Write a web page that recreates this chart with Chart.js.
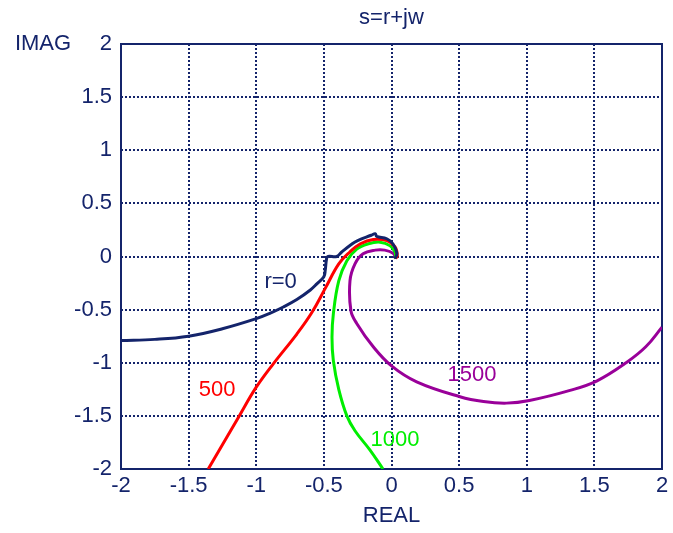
<!DOCTYPE html>
<html>
<head>
<meta charset="utf-8">
<script src="https://cdn.jsdelivr.net/npm/chart.js@4"></script>
<style>
  html, body { margin: 0; padding: 0; background: #fff; }
  #wrap { width: 673px; height: 533px; }
</style>
</head>
<body>
<div id="wrap"><canvas id="chart" width="673" height="533"></canvas></div>
<script>
// tick values for both axes
const xTicks = [-2, -1.5, -1, -0.5, 0, 0.5, 1, 1.5, 2];
const yTicks = [-2, -1.5, -1, -0.5, 0, 0.5, 1, 1.5, 2];

// r = 0
const r0X = [-2, -1.75, -1.5, -1.25, -1.0, -0.9, -0.8, -0.7, -0.6, -0.55, -0.5, -0.49, -0.48, -0.47, -0.405, -0.37, -0.29, -0.25, -0.15, -0.12, -0.11, -0.035, 0.01, 0.04, 0.025];
const r0Y = [-0.79, -0.78, -0.75, -0.68, -0.585, -0.535, -0.475, -0.405, -0.315, -0.255, -0.19, -0.13, -0.02, 0.0, 0.0, 0.04, 0.12, 0.15, 0.2, 0.215, 0.19, 0.167, 0.12, 0.03, -0.02];

// r = 500
const r500X = [-1.355, -1.13, -1.0, -0.874, -0.70, -0.59, -0.49, -0.39, -0.31, -0.23, -0.135, -0.035, 0.026, 0.043, 0.03];
const r500Y = [-2, -1.51, -1.23, -1.01, -0.73, -0.53, -0.3, -0.07, 0.04, 0.12, 0.16, 0.15, 0.09, 0.01, -0.02];

// r = 1000
const r1000X = [-0.063, -0.16, -0.27, -0.33, -0.39, -0.43, -0.44, -0.43, -0.39, -0.33, -0.257, -0.17, -0.085, -0.01, 0.026, 0.03];
const r1000Y = [-2, -1.82, -1.64, -1.5, -1.25, -0.98, -0.76, -0.54, -0.23, -0.04, 0.07, 0.12, 0.135, 0.1, 0.04, -0.02];

// r = 1500
const r1500X = [0.03, 0.013, -0.05, -0.12, -0.21, -0.27, -0.307, -0.30, -0.257, -0.135, 0.0, 0.186, 0.506, 0.68, 0.85, 1.02, 1.32, 1.52, 1.74, 1.88, 2.0];
const r1500Y = [-0.02, 0.03, 0.06, 0.06, 0.025, -0.07, -0.23, -0.51, -0.63, -0.85, -1.03, -1.18, -1.32, -1.365, -1.38, -1.355, -1.26, -1.17, -0.995, -0.85, -0.665];

// curve labels
const labelText = ['r=0', '500', '1000', '1500'];
const labelX = [-0.82, -1.29, 0.026, 0.595];
const labelY = [-0.235, -1.26, -1.73, -1.11];

const navy = '#14246b';
const FONT = 'Arial, "Liberation Sans", sans-serif';
const colors = [navy, '#ff0000', '#00ee00', '#990099'];

function pts(xs, ys) {
  return xs.map((x, i) => ({ x: x, y: ys[i] }));
}

// frame, curve labels and the IMAG text
const extras = {
  id: 'extras',
  beforeDatasetsDraw(chart) {
    const a = chart.chartArea;
    const ctx = chart.ctx;
    ctx.save();
    ctx.strokeStyle = navy;
    ctx.lineWidth = 2;
    ctx.strokeRect(a.left, a.top, a.right - a.left, a.bottom - a.top);
    ctx.restore();
  },
  afterDraw(chart) {
    const ctx = chart.ctx;
    const xs = chart.scales.x, ys = chart.scales.y;
    ctx.save();
    ctx.font = '22px ' + FONT;
    ctx.textAlign = 'center';
    ctx.textBaseline = 'middle';
    for (let i = 0; i < labelText.length; i++) {
      ctx.fillStyle = colors[i];
      ctx.fillText(labelText[i], xs.getPixelForValue(labelX[i]), ys.getPixelForValue(labelY[i]));
    }
    ctx.fillStyle = navy;
    ctx.fillText('IMAG', 43, 44);
    ctx.fillText('s=r+jw', (chart.chartArea.left + chart.chartArea.right) / 2, 18);
    ctx.restore();
  }
};

const series = [[r0X, r0Y], [r500X, r500Y], [r1000X, r1000Y], [r1500X, r1500Y]];

new Chart(document.getElementById('chart'), {
  type: 'scatter',
  data: {
    datasets: series.map((s, i) => ({
      data: pts(s[0], s[1]),
      showLine: true,
      borderColor: colors[i],
      borderWidth: 3,
      pointRadius: 0,
      tension: 0.4,
      fill: false
    }))
  },
  options: {
    responsive: false,
    animation: false,
    layout: { padding: { top: 44, right: 11, left: 0, bottom: 0 } },
    plugins: {
      legend: { display: false },
      tooltip: { enabled: false },
      title: { display: false }
    },
    scales: {
      x: {
        type: 'linear',
        min: -2, max: 2,
        afterBuildTicks: s => { s.ticks = xTicks.map(v => ({ value: v })); },
        afterFit: s => { s.height = 64; },
        ticks: {
          color: navy,
          font: { size: 22, family: FONT },
          padding: 4,
          maxRotation: 0,
          callback: v => String(v)
        },
        grid: {
          color: navy,
          lineWidth: 2,
          drawTicks: false
        },
        border: { display: false, dash: [2, 2] },
        title: {
          display: true,
          text: 'REAL',
          color: navy,
          font: { size: 22, family: FONT },
          padding: { top: 2 }
        }
      },
      y: {
        type: 'linear',
        min: -2, max: 2,
        afterBuildTicks: s => { s.ticks = yTicks.map(v => ({ value: v })); },
        afterFit: s => { s.width = 121; },
        ticks: {
          color: navy,
          font: { size: 22, family: FONT },
          padding: 9,
          callback: v => String(v)
        },
        grid: {
          color: navy,
          lineWidth: 2,
          drawTicks: false
        },
        border: { display: false, dash: [2, 2] }
      }
    }
  },
  plugins: [extras]
});
</script>
</body>
</html>
